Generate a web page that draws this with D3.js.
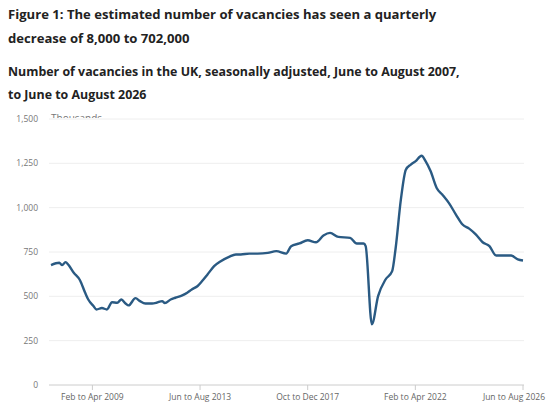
<!DOCTYPE html>
<html><head><meta charset="utf-8">
<script src="https://cdn.jsdelivr.net/npm/d3@7"></script>
<style>body{margin:0;background:#fff;font-family:"Open Sans",sans-serif}</style>
</head><body><svg id="c" width="550" height="408"></svg>
<script>
// months since Jun to Aug 2007
const months = [0,4,5.4,7,8.4,11,14,16.5,18,20.5,22,24.6,27,29.5,32,34,36,37.5,40.8,43,45.6,48.8,51,53.7,55,57.8,60,63.4,65.8,68,70.7,73,75.6,78.8,82,86,89.3,91.7,95.8,99.8,104.7,108.8,113.6,116,120,124,128,131.6,134.8,138.8,144.5,147.7,151,152,155,158,161.6,164.8,166.4,169,171.4,173.8,176,179,181,183.4,186.3,189,192.4,195.6,198.8,202,205.3,208.5,211.8,215,219,222.3,225.5,228];
const vacancies = [676,689,676,693,678,633,591,520,482,445,426,434,426,467,464,482,460,449,490,473,460,460,464,473,462,482,492,505,520,539,557,586,623,670,698,723,736,736,741,741,745,755,741,783,798,816,805,843,858,835,830,798,798,783,342,501,595,642,764,1045,1214,1243,1261,1293,1261,1205,1111,1074,1023,961,905,882,848,805,783,730,730,730,708,702];
const tickMonths = [20,72,124,176,228];
const tickLabels = ["Feb to Apr 2009","Jun to Aug 2013","Oct to Dec 2017","Feb to Apr 2022","Jun to Aug 2026"];
const yTicks = [0,250,500,750,1000,1250,1500];

const svg = d3.select("#c");
const x = d3.scaleLinear().domain([0,228]).range([51,523]);
const y = d3.scaleLinear().domain([0,1500]).range([385,119]);

svg.append("text").attr("x",8).attr("y",19).attr("font-size",13.1).attr("font-weight",700).attr("fill","#222").text("Figure 1: The estimated number of vacancies has seen a quarterly");
svg.append("text").attr("x",8).attr("y",43).attr("font-size",13.1).attr("font-weight",700).attr("fill","#222").text("decrease of 8,000 to 702,000");
svg.append("text").attr("x",8).attr("y",76).attr("font-size",12.4).attr("font-weight",700).attr("fill","#222").text("Number of vacancies in the UK, seasonally adjusted, June to August 2007,");
svg.append("text").attr("x",8).attr("y",99).attr("font-size",12.4).attr("font-weight",700).attr("fill","#222").text("to June to August 2026");

const g = svg.append("g");
yTicks.forEach(t=>{
  g.append("line").attr("x1",49).attr("x2",524).attr("y1",y(t)).attr("y2",y(t)).attr("stroke",t===0?"#ccc":"#eee");
  g.append("text").attr("x",38).attr("y",y(t)+3).attr("text-anchor","end").attr("font-size",8.5).attr("fill","#777").text(d3.format(",")(t));
});
svg.append("clipPath").attr("id","cl").append("rect").attr("x",40).attr("y",108).attr("width",100).attr("height",10);
svg.append("text").attr("x",51).attr("y",122).attr("font-size",10).attr("fill","#777").attr("clip-path","url(#cl)").text("Thousands");

tickMonths.forEach((m,i)=>{
  g.append("line").attr("x1",x(m)).attr("x2",x(m)).attr("y1",385).attr("y2",390).attr("stroke","#ccc");
  const last = i===tickMonths.length-1;
  g.append("text").attr("x",last?545:x(m)).attr("y",400).attr("text-anchor",last?"end":"middle").attr("font-size",8.5).attr("fill","#666").text(tickLabels[i]);
});

const line = d3.line().x((d,i)=>x(months[i])).y(d=>y(d)).curve(d3.curveMonotoneX);
svg.append("path").datum(vacancies).attr("d",line).attr("fill","none").attr("stroke","#2a5a83").attr("stroke-width",2.4).attr("stroke-linejoin","round");
</script></body></html>
